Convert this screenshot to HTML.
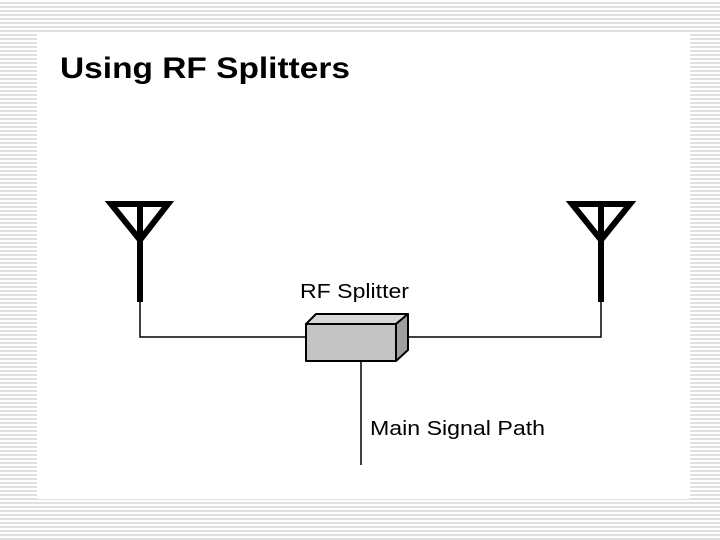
<!DOCTYPE html>
<html><head><style>
html,body{margin:0;padding:0}
body{width:720px;height:540px;overflow:hidden;background:repeating-linear-gradient(to bottom,#fff 0,#fff 2px,#e0e0e0 2px,#e0e0e0 4px);position:relative;font-family:"Liberation Sans",Arial,sans-serif}
#panel{position:absolute;left:37px;top:33px;width:653px;height:466px;background:#fff}
</style></head><body>
<div id="panel"></div>
<svg width="720" height="540" style="position:absolute;left:0;top:0">
<text x="60" y="78" font-family="Liberation Sans,Arial,sans-serif" font-weight="bold" font-size="30" fill="#000" textLength="290" lengthAdjust="spacingAndGlyphs">Using RF Splitters</text>
<g fill="none" stroke="#000" stroke-width="6" stroke-linejoin="miter">
<polygon points="111,204 168,204 140,240"/>
<line x1="140" y1="204" x2="140" y2="302"/>
<polygon points="572,204 630,204 601,240"/>
<line x1="601" y1="204" x2="601" y2="302"/>
</g>
<g fill="none" stroke="#000" stroke-width="1.5">
<polyline points="140,300 140,337 306,337"/>
<polyline points="601,300 601,337 408,337"/>
<line x1="361" y1="361" x2="361" y2="465"/>
</g>
<g stroke="#000" stroke-width="2" stroke-linejoin="round">
<polygon points="306,324 316,314 408,314 396,324" fill="#d8d8d8"/>
<polygon points="396,324 408,314 408,350 396,361" fill="#a0a0a0"/>
<rect x="306" y="324" width="90" height="37" fill="#c4c4c4"/>
</g>
<text x="300" y="298" font-size="20" fill="#000" textLength="109" lengthAdjust="spacingAndGlyphs">RF Splitter</text>
<text x="370" y="435" font-size="20" fill="#000" textLength="175" lengthAdjust="spacingAndGlyphs">Main Signal Path</text>
</svg>
</body></html>
